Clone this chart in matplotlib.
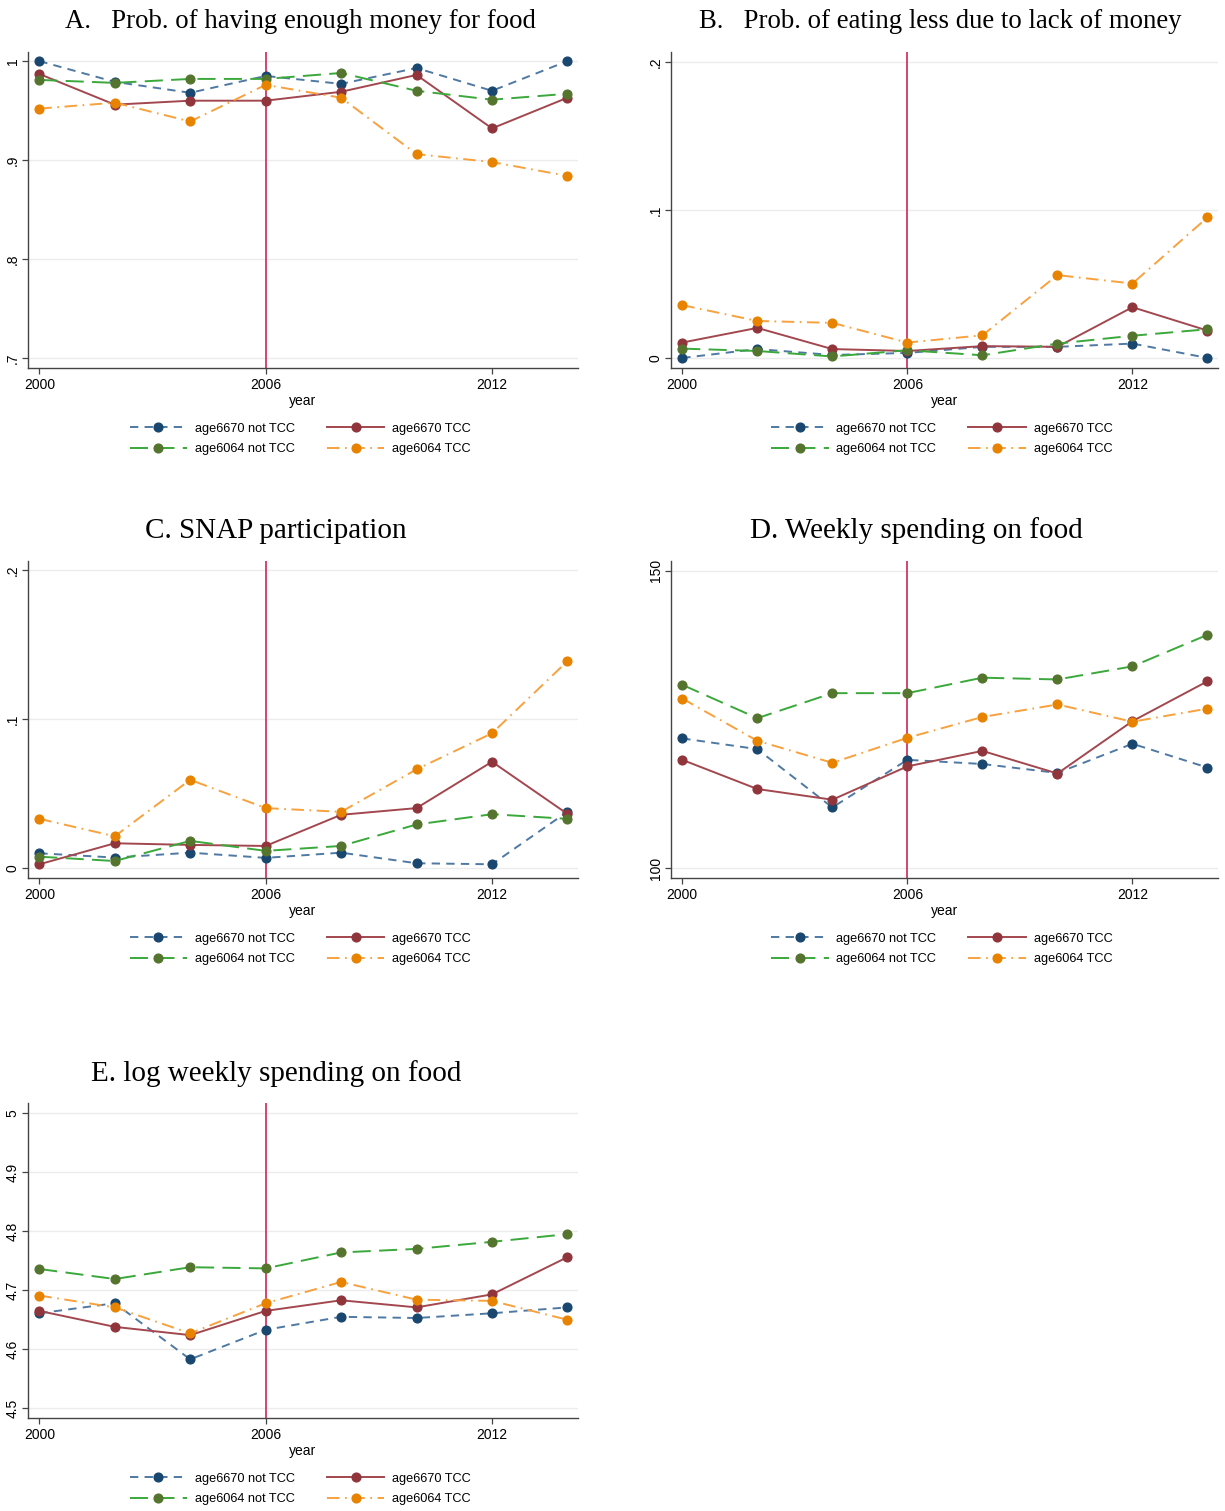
import numpy as np
import matplotlib
matplotlib.use("Agg")
import matplotlib.pyplot as plt

plt.rcParams['font.family'] = ['Liberation Sans', 'DejaVu Sans']
plt.rcParams['lines.scale_dashes'] = False

years = [2000, 2002, 2004, 2006, 2008, 2010, 2012, 2014]
labels = ["age6670 not TCC", "age6670 TCC", "age6064 not TCC", "age6064 TCC"]

# A. enough money for food
enough_6670_not = [1.000, 0.979, 0.968, 0.985, 0.977, 0.993, 0.970, 1.000]
enough_6670_tcc = [0.987, 0.956, 0.960, 0.960, 0.969, 0.986, 0.932, 0.963]
enough_6064_not = [0.981, 0.978, 0.982, 0.982, 0.988, 0.970, 0.961, 0.967]
enough_6064_tcc = [0.952, 0.958, 0.939, 0.976, 0.963, 0.906, 0.898, 0.884]

# B. eating less due to lack of money
less_6670_not = [0.0000, 0.0060, 0.0020, 0.0034, 0.0075, 0.0075, 0.0097, 0.0000]
less_6670_tcc = [0.0104, 0.0203, 0.0060, 0.0047, 0.0080, 0.0075, 0.0343, 0.0185]
less_6064_not = [0.0063, 0.0047, 0.0010, 0.0052, 0.0018, 0.0097, 0.0150, 0.0194]
less_6064_tcc = [0.0357, 0.0250, 0.0237, 0.0104, 0.0153, 0.0560, 0.0503, 0.0950]

# C. SNAP participation
snap_6670_not = [0.0101, 0.0072, 0.0105, 0.0070, 0.0105, 0.0034, 0.0027, 0.0380]
snap_6670_tcc = [0.0027, 0.0168, 0.0157, 0.0150, 0.0359, 0.0404, 0.0715, 0.0365]
snap_6064_not = [0.0078, 0.0049, 0.0184, 0.0117, 0.0150, 0.0294, 0.0363, 0.0332]
snap_6064_tcc = [0.0332, 0.0215, 0.0594, 0.0404, 0.0379, 0.0664, 0.0906, 0.1390]

# D. weekly food spending
spend_6670_not = [121.8, 120.0, 110.2, 118.2, 117.5, 116.0, 120.9, 116.9]
spend_6670_tcc = [118.2, 113.3, 111.5, 117.1, 119.7, 115.9, 124.7, 131.4]
spend_6064_not = [130.8, 125.2, 129.4, 129.4, 132.0, 131.7, 133.9, 139.2]
spend_6064_tcc = [128.5, 121.4, 117.7, 121.9, 125.4, 127.5, 124.6, 126.8]

# E. log weekly food spending
logspend_6670_not = [4.661, 4.678, 4.583, 4.633, 4.655, 4.653, 4.661, 4.671]
logspend_6670_tcc = [4.665, 4.638, 4.624, 4.665, 4.683, 4.671, 4.693, 4.756]
logspend_6064_not = [4.736, 4.719, 4.739, 4.737, 4.764, 4.770, 4.782, 4.795]
logspend_6064_tcc = [4.691, 4.671, 4.627, 4.678, 4.714, 4.684, 4.682, 4.650]

# line colour, marker colour, dash pattern (points)
styles = [
    ("#4f79a3", "#1a476f", (0, (6, 4.5))),
    ("#a3474f", "#90353b", "-"),
    ("#3aa83a", "#55752f", (0, (13, 6))),
    ("#f7a13f", "#e88300", (0, (9, 4, 1.2, 4))),
]

W, H = 1225, 1511
fig = plt.figure(figsize=(W / 100, H / 100), dpi=100)
fig.patch.set_facecolor("white")


def panel(box, title, title_x, title_y, title_size, series, ylim, yticks, yticklabels):
    l, t, r, b = box
    ax = fig.add_axes([l / W, 1 - b / H, (r - l) / W, (b - t) / H])
    ax.set_xlim(1999.7, 2014.28)
    ax.set_ylim(*ylim)
    for y in yticks:
        ax.axhline(y, color="#ececec", lw=1.0, zorder=0)
    ax.axvline(2006, color="#d33663", lw=1.3, zorder=1)
    handles = []
    for vals, lab, (lc, mc, ls) in zip(series, labels, styles):
        h, = ax.plot(years, vals, color=lc, lw=1.4, linestyle=ls,
                     marker="o", markersize=6.3, markerfacecolor=mc,
                     markeredgecolor=mc, label=lab, zorder=3)
        handles.append(h)
    ax.set_xticks([2000, 2006, 2012])
    ax.set_yticks(yticks)
    ax.set_yticklabels(yticklabels, rotation=90, va="center")
    ax.tick_params(axis="both", direction="out", length=4, width=0.9,
                   color="#444444", labelsize=10, pad=2)
    ax.tick_params(axis="x", pad=3)
    for s in ("top", "right"):
        ax.spines[s].set_visible(False)
    for s in ("left", "bottom"):
        ax.spines[s].set_color("#444444")
        ax.spines[s].set_linewidth(1.0)
    ax.set_xlabel("year", fontsize=10, labelpad=2)
    order = [0, 2, 1, 3]
    ax.legend([handles[i] for i in order], [labels[i] for i in order],
              ncol=2, frameon=False, loc="upper center",
              bbox_to_anchor=(0.495, -0.137), fontsize=9.2,
              handlelength=4.5, handletextpad=0.6, columnspacing=2.5,
              labelspacing=0.66, numpoints=1)
    fig.text(title_x / W, 1 - title_y / H, title, ha="center", va="center",
             fontsize=title_size, family=["Liberation Serif", "DejaVu Serif"])
    return ax


panel((28, 52, 578, 368), "A.   Prob. of having enough money for food", 300, 21, 19.3,
      [enough_6670_not, enough_6670_tcc, enough_6064_not, enough_6064_tcc],
      (0.6899, 1.0092), [0.7, 0.8, 0.9, 1.0], [".7", ".8", ".9", "1"])

panel((671, 52, 1218, 368), "B.   Prob. of eating less due to lack of money", 940, 21, 19.3,
      [less_6670_not, less_6670_tcc, less_6064_not, less_6064_tcc],
      (-0.0068, 0.2068), [0, 0.1, 0.2], ["0", ".1", ".2"])

panel((28, 561, 578, 878), "C. SNAP participation", 276, 531, 21,
      [snap_6670_not, snap_6670_tcc, snap_6064_not, snap_6064_tcc],
      (-0.0065, 0.2062), [0, 0.1, 0.2], ["0", ".1", ".2"])

panel((671, 561, 1218, 878), "D. Weekly spending on food", 916, 531, 21,
      [spend_6670_not, spend_6670_tcc, spend_6064_not, spend_6064_tcc],
      (98.35, 151.6), [100, 150], ["100", "150"])

panel((28, 1103, 578, 1418), "E. log weekly spending on food", 276, 1074, 21,
      [logspend_6670_not, logspend_6670_tcc, logspend_6064_not, logspend_6064_tcc],
      (4.4837, 5.017), [4.5, 4.6, 4.7, 4.8, 4.9, 5.0],
      ["4.5", "4.6", "4.7", "4.8", "4.9", "5"])

fig.savefig("out.png", dpi=100, facecolor="white")
